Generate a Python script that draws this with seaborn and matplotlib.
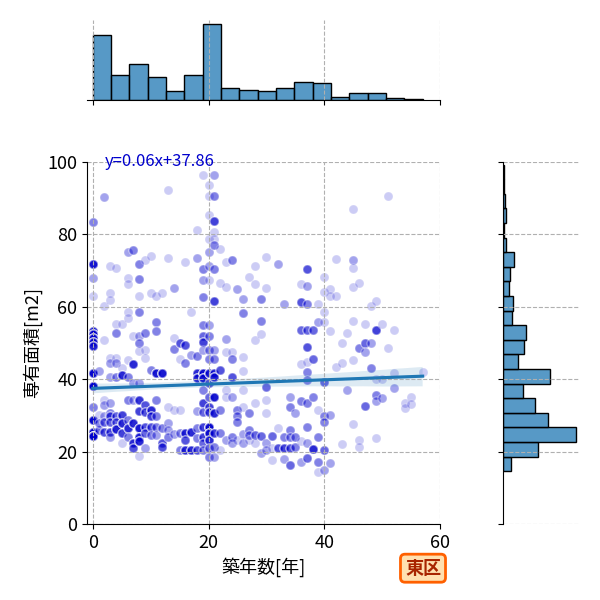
import numpy as np
import pandas as pd
import matplotlib
matplotlib.use("Agg")
import matplotlib.pyplot as plt
import seaborn as sns

# building age [years], floor area [m2], number of listed units at that point
age = [
    0, 0, 0, 0, 0, 0, 0, 0, 0, 0, 0, 0, 0, 0, 0,
    1, 1, 1, 1,
    2, 2, 2, 2, 2, 2, 2, 2,
    3, 3, 3, 3, 3, 3, 3, 3, 3, 3, 3, 3,
    4, 4, 4, 4, 4, 4, 4, 4, 4,
    5, 5, 5, 5, 5, 5, 5,
    6, 6, 6, 6, 6, 6, 6, 6, 6, 6, 6,
    7, 7, 7, 7, 7, 7, 7, 7,
    8, 8, 8, 8, 8, 8, 8, 8, 8, 8, 8, 8, 8, 8,
    9, 9, 9, 9, 9, 9, 9, 9, 9,
    10, 10, 10, 10, 10, 10, 10,
    11, 11, 11, 11, 11, 11, 11, 11,
    12, 12, 12, 12, 12,
    13, 13, 13, 13, 13, 13,
    14, 14, 14, 14, 14,
    15, 15, 15, 15, 15,
    16, 16, 16, 16, 16, 16,
    17, 17, 17, 17,
    18, 18, 18, 18, 18, 18, 18, 18, 18,
    19, 19, 19, 19, 19, 19, 19, 19, 19, 19, 19, 19, 19, 19, 19, 19, 19,
    20, 20, 20, 20, 20, 20, 20, 20, 20, 20, 20, 20, 20, 20, 20, 20, 20, 20, 20, 20, 20,
    21, 21, 21, 21, 21, 21, 21, 21, 21, 21, 21, 21, 21, 21, 21, 21, 21,
    22, 22, 22, 22, 22, 22,
    23, 23, 23, 23, 23, 23, 23,
    24, 24, 24, 24, 24, 24, 24,
    25, 25, 25, 25, 25,
    26, 26, 26, 26, 26, 26, 26, 26,
    27, 27, 27, 27, 27,
    28, 28, 28, 28, 28, 28,
    29, 29, 29, 29, 29,
    30, 30, 30, 30, 30, 30, 30,
    31, 31, 31,
    32, 32, 32,
    33, 33, 33, 33,
    34, 34, 34, 34, 34, 34,
    35, 35, 35,
    36, 36, 36, 36, 36, 36, 36,
    37, 37, 37, 37, 37, 37, 37, 37, 37, 37, 37, 37,
    38, 38, 38, 38,
    39, 39, 39, 39, 39, 39,
    40, 40, 40, 40, 40, 40, 40, 40, 40,
    41, 41, 41, 41, 41,
    42, 42, 42,
    43, 43, 43,
    44, 44,
    45, 45, 45, 45, 45, 45, 45,
    46, 46, 46, 46,
    47, 47, 47, 47,
    48, 48, 48,
    49, 49, 49, 49, 49, 49,
    50, 50, 50,
    51, 51,
    52, 52, 52,
    54, 54,
    55, 55,
    57,
]
area = [
    83.4, 71.8, 67.9, 62.9, 53.4, 52.4, 51.4, 50.4, 49.3, 41.8, 38.0, 32.4, 28.6, 25.5, 24.4,
    42.3, 30.0, 26.0, 28.0,
    90.3, 60.1, 50.9, 34.3, 32.9, 29.7, 28.3, 25.5,
    71.2, 63.8, 61.9, 45.8, 44.4, 40.7, 33.4, 30.6, 29.7, 28.3, 25.5, 24.1,
    70.7, 55.3, 52.7, 45.8, 44.4, 40.7, 29.7, 28.3, 26.2,
    55.3, 43.0, 41.2, 30.1, 27.8, 25.1, 22.3,
    75.1, 67.9, 66.3, 58.5, 56.9, 45.3, 40.7, 34.3, 28.8, 26.5, 24.1,
    75.8, 51.8, 44.2, 38.9, 34.3, 27.8, 22.3, 20.9,
    71.8, 67.7, 63.1, 58.5, 51.8, 50.1, 47.7, 38.9, 34.3, 31.2, 26.5, 24.1, 22.8, 18.8,
    73.0, 52.9, 48.1, 45.8, 32.9, 31.0, 26.9, 25.1, 20.9,
    74.1, 63.8, 42.6, 31.5, 29.7, 26.9, 24.6,
    62.9, 55.7, 53.2, 41.8, 34.3, 29.7, 26.9, 24.6,
    63.8, 41.8, 26.5, 22.3, 21.4,
    92.3, 73.5, 32.4, 28.0, 26.0, 24.1,
    65.2, 51.5, 48.3, 31.5, 25.0,
    50.1, 45.5, 31.5, 25.1, 20.5,
    72.4, 49.5, 44.4, 25.1, 23.2, 20.5,
    58.5, 46.7, 25.3, 20.5,
    81.3, 73.5, 46.3, 41.8, 40.3, 31.1, 26.5, 23.7, 20.5,
    96.5, 70.5, 67.5, 62.7, 55.0, 51.8, 50.4, 48.1, 41.8, 40.3, 37.1, 33.4, 31.0, 26.9, 24.1, 22.3, 20.5,
    93.7, 90.5, 85.3, 78.7, 75.0, 71.2, 67.5, 55.0, 51.8, 48.1, 45.5, 41.8, 38.9, 35.2, 32.4, 31.0, 26.9, 25.1, 23.2, 20.9, 18.6,
    96.5, 90.5, 83.6, 80.8, 78.7, 77.1, 70.5, 61.5, 48.1, 45.5, 41.8, 40.7, 35.2, 30.6, 25.1, 21.4, 18.6,
    76.0, 66.5, 42.6, 31.5, 25.1, 20.5,
    72.3, 65.6, 51.0, 47.6, 37.1, 35.2, 23.2,
    73.0, 47.6, 45.5, 40.5, 35.2, 24.1, 22.3,
    65.0, 31.5, 29.7, 28.3, 23.2,
    62.2, 58.2, 46.0, 42.3, 37.1, 32.4, 25.0, 22.3,
    68.1, 30.6, 26.0, 24.6, 23.2,
    71.2, 66.3, 50.9, 33.4, 24.6, 22.3,
    62.2, 56.2, 52.4, 24.4, 19.5,
    73.7, 65.3, 37.8, 34.3, 30.6, 22.3, 20.5,
    24.4, 20.9, 17.7,
    71.8, 26.5, 20.9,
    60.8, 24.1, 20.9, 17.9,
    35.2, 32.4, 26.0, 24.0, 20.9, 16.3,
    30.6, 24.1, 21.4,
    66.4, 61.3, 53.5, 44.2, 34.1, 22.8, 17.2,
    70.4, 65.8, 60.8, 53.5, 49.0, 44.7, 42.1, 39.8, 33.4, 26.9, 22.5, 18.2,
    53.5, 45.6, 35.2, 20.6,
    60.8, 55.9, 31.5, 24.0, 17.2, 14.5,
    68.2, 64.1, 58.7, 55.9, 39.2, 29.7, 28.3, 20.5, 14.9,
    64.9, 62.9, 53.2, 30.1, 16.8,
    73.3, 63.1, 43.5,
    50.1, 44.4, 22.1,
    52.9, 37.1,
    87.0, 73.0, 70.7, 65.6, 56.1, 45.2, 27.6,
    66.5, 48.6, 23.2, 21.4,
    55.2, 50.0, 47.6, 32.7,
    60.1, 50.0, 43.0,
    61.5, 53.6, 40.0, 35.7, 34.1, 23.7,
    55.3, 40.0, 34.7,
    90.5, 48.6,
    53.6, 41.7, 37.5,
    33.4, 32.0,
    35.2, 33.2,
    42.1,
]
units = [
    3, 11, 2, 1, 10, 10, 10, 9, 9, 16, 26, 3, 15, 19, 19,
    2, 1, 4, 3,
    2, 1, 1, 1, 2, 2, 4, 5,
    1, 1, 1, 1, 2, 2, 2, 3, 5, 4, 6, 2,
    1, 1, 3, 1, 2, 3, 4, 4, 9,
    1, 1, 8, 6, 8, 6, 1,
    2, 1, 1, 1, 1, 1, 3, 3, 3, 8, 3,
    3, 1, 8, 2, 2, 8, 8, 5,
    3, 3, 1, 3, 2, 3, 1, 2, 7, 6, 10, 10, 8, 1,
    1, 3, 1, 1, 5, 5, 5, 4, 2,
    1, 1, 3, 8, 6, 5, 3,
    1, 3, 3, 10, 3, 3, 3, 2,
    1, 10, 3, 5, 5,
    1, 1, 1, 2, 2, 3,
    2, 1, 3, 1, 2,
    5, 1, 1, 3, 3,
    1, 5, 3, 8, 5, 8,
    1, 2, 8, 8,
    1, 2, 3, 8, 8, 2, 3, 3, 5,
    1, 3, 2, 3, 3, 4, 6, 2, 12, 10, 3, 6, 4, 6, 6, 4, 3,
    1, 1, 1, 1, 2, 2, 1, 2, 3, 3, 3, 10, 5, 4, 6, 6, 14, 13, 8, 4, 3,
    2, 3, 6, 1, 1, 3, 3, 6, 2, 3, 8, 8, 10, 8, 6, 3, 2,
    1, 1, 5, 3, 3, 1,
    1, 1, 2, 1, 1, 1, 2,
    3, 1, 3, 5, 2, 3, 2,
    2, 3, 3, 3, 1,
    2, 3, 1, 1, 1, 1, 2, 2,
    1, 3, 3, 3, 1,
    1, 1, 1, 1, 4, 1,
    3, 3, 1, 4, 2,
    1, 1, 4, 1, 1, 2, 2,
    4, 1, 1,
    2, 1, 5,
    2, 3, 6, 2,
    2, 3, 3, 3, 5, 4,
    2, 3, 3,
    1, 5, 4, 1, 3, 1, 2,
    5, 2, 3, 4, 5, 1, 3, 3, 3, 3, 2, 4,
    4, 4, 3, 8,
    1, 2, 1, 3, 3, 1,
    1, 1, 1, 1, 4, 3, 3, 4, 2,
    1, 1, 1, 2, 2,
    1, 1, 1,
    1, 1, 1,
    1, 2,
    1, 2, 1, 1, 1, 1, 1,
    1, 3, 1, 1,
    1, 4, 2, 4,
    1, 2, 3,
    1, 6, 1, 3, 2, 1,
    1, 1, 2,
    1, 1,
    1, 1, 2,
    1, 1,
    1, 1,
    1,
]

plt.rcParams["font.family"] = ["Noto Sans CJK JP", "DejaVu Sans"]
plt.rcParams["axes.grid"] = True
plt.rcParams["grid.linestyle"] = "--"
plt.rcParams["grid.color"] = "#b0b0b0"
plt.rcParams["grid.linewidth"] = 0.8
plt.rcParams["xtick.labelsize"] = 13
plt.rcParams["ytick.labelsize"] = 13

points = pd.DataFrame({"age": age, "area": area, "units": units})
df = points.loc[points.index.repeat(points["units"])].reset_index(drop=True)

g = sns.JointGrid(data=df, x="age", y="area", height=6, ratio=3, space=0.8)
sns.regplot(data=df, x="age", y="area", ax=g.ax_joint, seed=0,
            scatter_kws={"color": "mediumblue", "alpha": 0.2, "s": 42,
                         "edgecolor": "white", "linewidths": 1},
            line_kws={"color": "C0"})
sns.histplot(data=df, x="age", ax=g.ax_marg_x, bins=18, edgecolor="black", linewidth=1)
sns.histplot(data=df, y="area", ax=g.ax_marg_y, bins=21, binrange=(14.6, 99.3),
             edgecolor="black", linewidth=1)

ax = g.ax_joint
ax.set_xlim(-1, 60)
ax.set_ylim(0, 100)
ax.set_xticks([0, 20, 40, 60])
ax.set_yticks([0, 20, 40, 60, 80, 100])
ax.set_xlabel("築年数[年]", fontsize=13)
ax.set_ylabel("専有面積[m2]", fontsize=13)
ax.text(0.05, 0.99, "y=0.06x+37.86", transform=ax.transAxes, color="mediumblue",
        fontsize=12, va="baseline")

ax.set_position([87 / 600, 76 / 600, 353 / 600, 362 / 600])
g.ax_marg_x.set_position([87 / 600, 500 / 600, 353 / 600, 80 / 600])
g.ax_marg_y.set_position([503 / 600, 76 / 600, 77 / 600, 362 / 600])

g.fig.text(0.705, 0.053, "東区", ha="center", va="center", fontsize=13,
           fontweight="bold", color="#a82400",
           bbox=dict(boxstyle="round,pad=0.25", fc="#ffe0b0", ec="#ff6000", lw=2))

plt.savefig("out.png", dpi=100)
